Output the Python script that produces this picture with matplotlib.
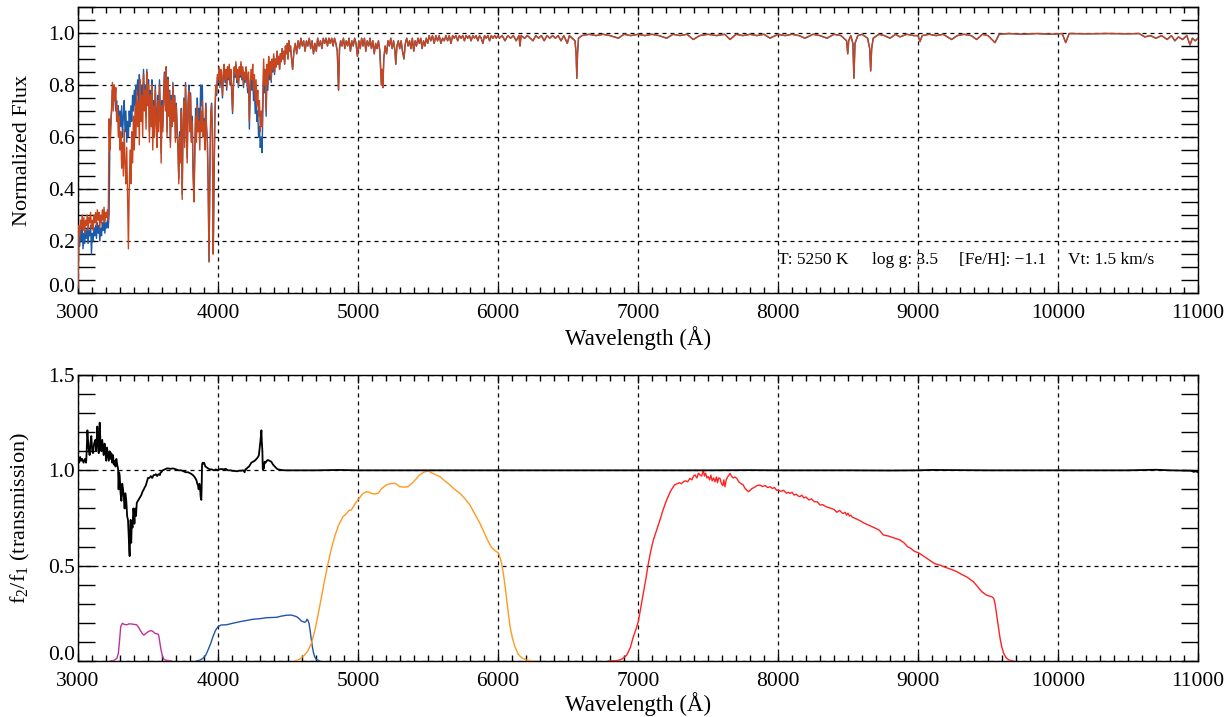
import numpy as np
import matplotlib
matplotlib.use("Agg")
import matplotlib.pyplot as plt
from matplotlib.ticker import MultipleLocator, FormatStrFormatter
from matplotlib.transforms import ScaledTranslation

# ---------------- data ----------------
# spectra on a 6 A grid from 3000 A (blue region), f2 = red/orange line, f1 = blue line
f2_blue_region = [
    0.02, 0.26, 0.22, 0.28, 0.25, 0.30, 0.24, 0.29, 0.23, 0.28,
    0.26, 0.30, 0.24, 0.29, 0.27, 0.31, 0.25, 0.28, 0.24, 0.30,
    0.27, 0.31, 0.26, 0.32, 0.28, 0.31, 0.25, 0.30, 0.27, 0.32,
    0.28, 0.33, 0.27, 0.31, 0.29, 0.32, 0.28, 0.67, 0.55, 0.62,
    0.72, 0.81, 0.70, 0.80, 0.74, 0.79, 0.66, 0.72, 0.60, 0.68,
    0.55, 0.62, 0.48, 0.58, 0.45, 0.63, 0.50, 0.42, 0.56, 0.38,
    0.17, 0.40, 0.55, 0.42, 0.62, 0.50, 0.68, 0.55, 0.72, 0.60,
    0.78, 0.64, 0.74, 0.57, 0.82, 0.66, 0.76, 0.60, 0.84, 0.70,
    0.78, 0.63, 0.85, 0.72, 0.80, 0.58, 0.76, 0.64, 0.80, 0.55,
    0.72, 0.60, 0.78, 0.66, 0.56, 0.74, 0.62, 0.80, 0.68, 0.50,
    0.72, 0.62, 0.76, 0.84, 0.70, 0.87, 0.60, 0.82, 0.68, 0.77,
    0.56, 0.74, 0.64, 0.80, 0.66, 0.75, 0.58, 0.72, 0.63, 0.55,
    0.42, 0.60, 0.50, 0.70, 0.36, 0.62, 0.74, 0.56, 0.80, 0.65,
    0.50, 0.72, 0.78, 0.62, 0.76, 0.58, 0.66, 0.45, 0.35, 0.52,
    0.68, 0.58, 0.72, 0.62, 0.66, 0.55, 0.70, 0.62, 0.74, 0.60,
    0.66, 0.55, 0.72, 0.63, 0.58, 0.40, 0.12, 0.45, 0.68, 0.72,
    0.62, 0.15, 0.45, 0.70, 0.80, 0.77, 0.84, 0.82, 0.87, 0.80,
    0.86, 0.83, 0.76, 0.85, 0.88, 0.82, 0.86, 0.79, 0.87, 0.83,
    0.88, 0.81, 0.86, 0.78, 0.70, 0.80, 0.87, 0.84, 0.89, 0.82,
    0.86, 0.80, 0.87, 0.84, 0.89, 0.83, 0.87, 0.80, 0.85, 0.82,
    0.87, 0.84, 0.79, 0.85, 0.66, 0.80, 0.86, 0.82, 0.88, 0.78,
    0.84, 0.74, 0.82, 0.72, 0.78, 0.68, 0.74, 0.62, 0.70, 0.64,
    0.76, 0.90, 0.80, 0.86, 0.70, 0.88, 0.80, 0.91, 0.84, 0.89,
    0.82, 0.90, 0.86, 0.92, 0.85, 0.90, 0.87, 0.93, 0.88, 0.91,
    0.86, 0.92, 0.89, 0.94, 0.90, 0.93, 0.88, 0.95, 0.92, 0.96,
    0.90, 0.97, 0.93, 0.95,
]
f1_blue_region = [
    0.02, 0.22, 0.18, 0.24, 0.20, 0.25, 0.17, 0.23, 0.19, 0.24,
    0.21, 0.25, 0.19, 0.24, 0.22, 0.26, 0.15, 0.23, 0.20, 0.25,
    0.22, 0.26, 0.21, 0.27, 0.23, 0.26, 0.20, 0.25, 0.22, 0.27,
    0.24, 0.28, 0.23, 0.27, 0.25, 0.28, 0.25, 0.30, 0.60, 0.66,
    0.70, 0.78, 0.73, 0.80, 0.76, 0.70, 0.74, 0.66, 0.72, 0.62,
    0.70, 0.64, 0.72, 0.60, 0.68, 0.74, 0.62, 0.70, 0.58, 0.66,
    0.60, 0.70, 0.64, 0.72, 0.66, 0.76, 0.70, 0.78, 0.72, 0.80,
    0.76, 0.82, 0.74, 0.84, 0.78, 0.70, 0.80, 0.74, 0.86, 0.76,
    0.80, 0.68, 0.86, 0.74, 0.82, 0.62, 0.78, 0.68, 0.82, 0.60,
    0.74, 0.64, 0.80, 0.70, 0.60, 0.76, 0.66, 0.82, 0.70, 0.54,
    0.74, 0.64, 0.78, 0.85, 0.72, 0.87, 0.62, 0.83, 0.70, 0.78,
    0.58, 0.76, 0.66, 0.81, 0.68, 0.76, 0.60, 0.73, 0.64, 0.57,
    0.44, 0.62, 0.52, 0.71, 0.38, 0.63, 0.75, 0.58, 0.81, 0.66,
    0.52, 0.73, 0.80, 0.63, 0.77, 0.60, 0.68, 0.48, 0.37, 0.55,
    0.71, 0.61, 0.75, 0.66, 0.71, 0.62, 0.80, 0.72, 0.80, 0.62,
    0.67, 0.56, 0.73, 0.64, 0.59, 0.41, 0.12, 0.46, 0.69, 0.73,
    0.63, 0.15, 0.44, 0.68, 0.78, 0.76, 0.83, 0.81, 0.86, 0.79,
    0.85, 0.82, 0.75, 0.84, 0.87, 0.81, 0.85, 0.78, 0.86, 0.82,
    0.87, 0.80, 0.85, 0.77, 0.69, 0.79, 0.86, 0.83, 0.88, 0.81,
    0.85, 0.79, 0.86, 0.83, 0.88, 0.82, 0.86, 0.79, 0.84, 0.81,
    0.85, 0.82, 0.77, 0.82, 0.63, 0.77, 0.82, 0.78, 0.84, 0.74,
    0.79, 0.69, 0.76, 0.66, 0.70, 0.60, 0.64, 0.56, 0.60, 0.54,
    0.68, 0.86, 0.77, 0.83, 0.68, 0.86, 0.78, 0.89, 0.82, 0.87,
    0.81, 0.89, 0.85, 0.91, 0.84, 0.90, 0.87, 0.93, 0.88, 0.91,
    0.86, 0.92, 0.89, 0.94, 0.90, 0.93, 0.88, 0.95, 0.92, 0.96,
    0.90, 0.97, 0.93, 0.95,
]
grid_start, grid_step = 3000, 6

# beyond ~4520 A both spectra coincide: (wavelength, flux)
spec_tail = [
    (4524, 0.91), (4533, 0.86), (4542, 0.93), (4552, 0.96), (4562, 0.92), (4572, 0.97), (4582, 0.94),
    (4592, 0.98), (4602, 0.95), (4612, 0.97), (4622, 0.93), (4632, 0.97), (4642, 0.95), (4652, 0.98),
    (4662, 0.94), (4672, 0.97), (4682, 0.92), (4692, 0.96), (4702, 0.93), (4712, 0.98), (4722, 0.95),
    (4732, 0.97), (4742, 0.94), (4752, 0.98), (4762, 0.96), (4772, 0.98), (4782, 0.95), (4792, 0.98),
    (4802, 0.96), (4812, 0.98), (4822, 0.95), (4832, 0.98), (4842, 0.96), (4852, 0.93), (4861, 0.78),
    (4868, 0.94), (4876, 0.97), (4886, 0.95), (4896, 0.98), (4906, 0.94), (4916, 0.97), (4926, 0.95),
    (4936, 0.98), (4946, 0.93), (4956, 0.97), (4966, 0.95), (4976, 0.98), (4986, 0.96), (4996, 0.91),
    (5006, 0.97), (5016, 0.94), (5026, 0.98), (5036, 0.95), (5046, 0.98), (5056, 0.93), (5066, 0.97),
    (5076, 0.95), (5086, 0.98), (5096, 0.94), (5106, 0.97), (5116, 0.92), (5126, 0.96), (5136, 0.94),
    (5146, 0.97), (5156, 0.93), (5167, 0.80), (5172, 0.86), (5178, 0.79), (5184, 0.90), (5194, 0.95),
    (5204, 0.92), (5214, 0.97), (5224, 0.95), (5234, 0.98), (5244, 0.94), (5254, 0.97), (5264, 0.93),
    (5270, 0.88), (5278, 0.95), (5288, 0.97), (5298, 0.94), (5308, 0.97), (5318, 0.93), (5328, 0.90),
    (5338, 0.96), (5348, 0.98), (5358, 0.95), (5368, 0.97), (5378, 0.94), (5388, 0.98), (5398, 0.93),
    (5408, 0.97), (5418, 0.95), (5428, 0.98), (5438, 0.96), (5448, 0.98), (5458, 0.94), (5468, 0.97),
    (5478, 0.95), (5488, 0.98), (5498, 0.96), (5508, 0.99), (5520, 0.97), (5532, 0.99), (5544, 0.96),
    (5556, 0.99), (5568, 0.97), (5580, 0.99), (5592, 0.96), (5604, 0.98), (5616, 0.97), (5628, 0.99),
    (5640, 0.97), (5652, 0.99), (5664, 0.96), (5676, 0.99), (5688, 0.98), (5700, 0.99), (5712, 0.97),
    (5724, 0.99), (5736, 0.98), (5748, 0.99), (5760, 0.97), (5772, 0.99), (5784, 0.98), (5796, 0.99),
    (5808, 0.97), (5820, 0.99), (5832, 0.98), (5844, 0.99), (5856, 0.97), (5868, 0.99), (5880, 0.98),
    (5892, 0.96), (5904, 0.99), (5916, 0.98), (5928, 0.99), (5940, 0.97), (5952, 0.99), (5964, 0.98),
    (5976, 0.99), (5988, 0.98), (6000, 0.99), (6010, 0.98), (6030, 0.99), (6050, 0.97), (6070, 0.99),
    (6090, 0.98), (6110, 0.99), (6130, 0.97), (6150, 0.99), (6157, 0.95), (6165, 0.99), (6190, 0.98),
    (6210, 0.99), (6230, 0.98), (6250, 0.97), (6270, 0.99), (6290, 0.98), (6310, 0.99), (6330, 0.97),
    (6350, 0.99), (6370, 0.98), (6390, 0.99), (6410, 0.98), (6430, 0.99), (6450, 0.97), (6470, 0.99),
    (6495, 0.96), (6510, 0.99), (6530, 0.98), (6550, 0.97), (6558, 0.92), (6563, 0.826), (6568, 0.92),
    (6575, 0.98), (6600, 0.99), (6650, 0.995), (6700, 0.99), (6750, 0.995), (6800, 0.99), (6860, 0.98),
    (6900, 0.995), (6950, 0.99), (7000, 0.995), (7050, 0.99), (7100, 0.995), (7150, 0.99), (7205, 0.98),
    (7250, 0.995), (7300, 0.99), (7350, 0.995), (7395, 0.975), (7440, 0.99), (7500, 0.995), (7560, 0.99),
    (7620, 0.995), (7657, 0.975), (7700, 0.995), (7750, 0.99), (7800, 0.995), (7850, 0.99), (7900, 0.995),
    (7943, 0.98), (8000, 0.995), (8050, 0.99), (8100, 0.995), (8150, 0.99), (8193, 0.98), (8250, 0.995),
    (8300, 0.99), (8350, 0.98), (8400, 0.995), (8450, 0.99), (8490, 0.97), (8498, 0.92), (8505, 0.97),
    (8520, 0.99), (8535, 0.96), (8542, 0.826), (8550, 0.96), (8570, 0.99), (8600, 0.995), (8640, 0.98),
    (8655, 0.94), (8662, 0.854), (8669, 0.94), (8680, 0.98), (8720, 0.995), (8760, 0.99), (8800, 0.98),
    (8840, 0.995), (8871, 0.985), (8920, 0.995), (8970, 0.99), (9000, 0.99), (9014, 0.967), (9030, 0.99),
    (9080, 0.995), (9130, 0.99), (9180, 0.995), (9240, 0.975), (9280, 0.99), (9330, 0.995), (9380, 0.99),
    (9419, 0.975), (9460, 0.995), (9500, 0.99), (9550, 0.963), (9580, 0.995), (9650, 0.998), (9750, 0.995),
    (9850, 0.998), (9950, 0.995), (10030, 0.998), (10055, 0.963), (10080, 0.998), (10200, 0.997),
    (10350, 0.998), (10500, 0.997), (10580, 0.998), (10620, 0.985), (10660, 0.99), (10700, 0.98),
    (10740, 0.99), (10780, 0.975), (10810, 0.99), (10835, 0.97), (10860, 0.985), (10890, 0.975),
    (10920, 0.99), (10943, 0.954), (10960, 0.98), (10980, 0.97), (11000, 0.98),
]

# flux ratio f2/f1
ratio_pts = [
    (3000, 1.05), (3008, 1.04), (3015, 1.07), (3022, 1.05), (3030, 1.06), (3040, 1.04), (3050, 1.06),
    (3058, 1.04), (3062, 1.10), (3067, 1.21), (3075, 1.12), (3083, 1.08), (3090, 1.15), (3095, 1.18),
    (3102, 1.10), (3107, 1.09), (3115, 1.14), (3124, 1.16), (3130, 1.10), (3138, 1.23), (3143, 1.14),
    (3148, 1.09), (3155, 1.25), (3160, 1.15), (3167, 1.10), (3173, 1.16), (3178, 1.12), (3183, 1.08),
    (3190, 1.14), (3196, 1.09), (3202, 1.05), (3207, 1.12), (3214, 1.08), (3220, 1.05), (3226, 1.10),
    (3232, 1.06), (3238, 1.09), (3245, 1.04), (3250, 1.08), (3256, 1.03), (3262, 1.05), (3268, 1.02),
    (3274, 1.06), (3280, 1.03), (3286, 1.01), (3290, 0.90), (3294, 0.99), (3298, 0.97), (3304, 0.88),
    (3310, 0.84), (3316, 0.93), (3322, 0.90), (3328, 0.85), (3333, 0.80), (3338, 0.88), (3345, 0.84),
    (3351, 0.76), (3357, 0.74), (3362, 0.66), (3366, 0.58), (3369, 0.55), (3373, 0.68), (3376, 0.74),
    (3380, 0.62), (3384, 0.72), (3390, 0.70), (3395, 0.80), (3398, 0.79), (3403, 0.72), (3408, 0.80),
    (3414, 0.76), (3420, 0.83), (3428, 0.84), (3436, 0.85), (3444, 0.86), (3452, 0.87), (3462, 0.89),
    (3470, 0.90), (3476, 0.91), (3484, 0.92), (3492, 0.94), (3500, 0.96), (3510, 0.96), (3520, 0.97),
    (3530, 0.96), (3540, 0.975), (3548, 0.975), (3556, 0.98), (3565, 0.97), (3575, 0.98), (3585, 0.975),
    (3590, 0.99), (3595, 0.99), (3605, 1.0), (3620, 1.005), (3635, 1.01), (3643, 1.01), (3660, 1.008),
    (3680, 1.01), (3700, 1.005), (3720, 1.0), (3738, 1.0), (3755, 0.995), (3770, 0.99), (3786, 0.99),
    (3800, 0.985), (3812, 0.98), (3821, 0.975), (3833, 0.965), (3845, 0.95), (3852, 0.93), (3857, 0.92),
    (3862, 0.90), (3867, 0.93), (3872, 0.91), (3876, 0.86), (3881, 0.845), (3884, 0.94), (3886, 1.03),
    (3890, 1.04), (3895, 1.035), (3900, 1.04), (3910, 1.02), (3920, 1.015), (3930, 1.01), (3940, 1.005),
    (3955, 1.005), (3970, 1.0), (3985, 1.005), (4000, 1.0), (4010, 1.005), (4024, 1.007), (4040, 1.005),
    (4055, 1.008), (4071, 1.0), (4090, 1.0), (4105, 0.997), (4119, 0.997), (4135, 0.995), (4150, 0.998),
    (4167, 0.998), (4180, 1.0), (4190, 0.99), (4195, 1.005), (4202, 1.007), (4212, 1.015), (4222, 1.02),
    (4230, 1.03), (4238, 1.04), (4250, 1.045), (4262, 1.05), (4275, 1.06), (4286, 1.07), (4292, 1.08),
    (4298, 1.12), (4304, 1.16), (4310, 1.21), (4313, 1.15), (4317, 1.10), (4320, 1.005), (4323, 1.03),
    (4327, 1.01), (4333, 1.045), (4340, 1.04), (4348, 1.05), (4357, 1.054), (4368, 1.05), (4381, 1.045),
    (4393, 1.03), (4405, 1.02), (4418, 1.01), (4429, 1.005), (4450, 1.002), (4476, 1.0), (4550, 1.0),
    (4700, 1.0), (4860, 1.002), (5000, 1.0), (5500, 1.0), (6000, 1.0), (6500, 1.0), (7000, 1.0),
    (7500, 1.0), (7800, 1.001), (8000, 1.0), (8500, 1.0), (8800, 0.999), (9000, 1.0), (9100, 1.002),
    (9500, 1.0), (10000, 1.0), (10500, 1.0), (10700, 1.003), (10800, 1.0), (10950, 0.998),
    (10970, 0.992), (10985, 0.995), (11000, 0.99),
]

# filter transmission curves
filt_u = [
    (3229, 0), (3260, 0.004), (3278, 0.015), (3288, 0.04), (3296, 0.1), (3305, 0.18), (3317, 0.198),
    (3330, 0.192), (3348, 0.19), (3365, 0.195), (3383, 0.194), (3400, 0.192), (3419, 0.19),
    (3432, 0.178), (3443, 0.163), (3458, 0.145), (3471, 0.136), (3486, 0.145), (3502, 0.154),
    (3515, 0.158), (3526, 0.159), (3540, 0.152), (3550, 0.145), (3565, 0.142), (3574, 0.14),
    (3580, 0.12), (3586, 0.09), (3594, 0.055), (3602, 0.03), (3610, 0.012), (3621, 0.005), (3669, 0),
]
filt_b = [
    (3845, 0), (3870, 0.004), (3893, 0.014), (3912, 0.03), (3929, 0.058), (3947, 0.09), (3964, 0.128),
    (3982, 0.16), (4000, 0.18), (4024, 0.189), (4060, 0.19), (4100, 0.197), (4155, 0.206),
    (4200, 0.212), (4250, 0.219), (4300, 0.222), (4345, 0.227), (4380, 0.228), (4417, 0.229),
    (4450, 0.235), (4488, 0.24), (4524, 0.241), (4560, 0.233), (4580, 0.222), (4595, 0.21),
    (4619, 0.203), (4628, 0.207), (4636, 0.219), (4643, 0.212), (4650, 0.198), (4658, 0.16),
    (4667, 0.11), (4675, 0.07), (4683, 0.04), (4692, 0.02), (4702, 0.009), (4726, 0),
]
filt_v = [
    (4548, 0), (4580, 0.008), (4607, 0.023), (4640, 0.05), (4667, 0.093), (4695, 0.17), (4726, 0.285),
    (4755, 0.4), (4786, 0.512), (4810, 0.59), (4833, 0.652), (4860, 0.71), (4893, 0.757), (4920, 0.775),
    (4935, 0.79), (4952, 0.792), (4975, 0.82), (5000, 0.845), (5030, 0.875), (5060, 0.888),
    (5080, 0.885), (5095, 0.879), (5120, 0.876), (5143, 0.879), (5170, 0.905), (5202, 0.923),
    (5230, 0.93), (5262, 0.932), (5280, 0.925), (5298, 0.914), (5330, 0.912), (5357, 0.914),
    (5390, 0.935), (5419, 0.958), (5440, 0.976), (5470, 0.99), (5502, 0.997), (5530, 0.985),
    (5560, 0.975), (5586, 0.967), (5620, 0.945), (5657, 0.923), (5690, 0.9), (5729, 0.879),
    (5765, 0.85), (5800, 0.818), (5835, 0.77), (5871, 0.722), (5900, 0.675), (5931, 0.626),
    (5950, 0.6), (5967, 0.586), (5985, 0.575), (6002, 0.568), (6015, 0.54), (6026, 0.512),
    (6040, 0.45), (6057, 0.355), (6072, 0.26), (6086, 0.18), (6103, 0.12), (6121, 0.075),
    (6145, 0.035), (6169, 0.017), (6200, 0.006), (6252, 0),
]
filt_i = [
    (6788, 0), (6850, 0.002), (6883, 0.009), (6919, 0.03), (6945, 0.07), (6967, 0.128), (6985, 0.165),
    (7002, 0.206), (7020, 0.28), (7038, 0.355), (7056, 0.43), (7074, 0.512), (7092, 0.58), (7110, 0.635),
    (7135, 0.69), (7157, 0.74), (7180, 0.795), (7205, 0.845), (7232, 0.89), (7260, 0.923), (7280, 0.93),
    (7295, 0.935), (7310, 0.93), (7324, 0.94), (7340, 0.945), (7355, 0.94), (7371, 0.958), (7385, 0.95),
    (7397, 0.97), (7407, 0.976), (7420, 0.96), (7432, 0.985), (7443, 0.976), (7455, 0.97), (7462, 0.99),
    (7467, 1.0), (7474, 0.97), (7483, 0.985), (7492, 0.96), (7502, 0.967), (7512, 0.95), (7520, 0.975),
    (7530, 0.945), (7540, 0.96), (7550, 0.94), (7560, 0.965), (7568, 0.935), (7576, 0.96), (7586, 0.958),
    (7596, 0.93), (7606, 0.92), (7613, 0.95), (7621, 0.914), (7630, 0.95), (7640, 0.965), (7650, 0.975),
    (7657, 0.984), (7667, 0.97), (7680, 0.96), (7692, 0.965), (7705, 0.958), (7720, 0.94), (7735, 0.93),
    (7750, 0.925), (7765, 0.905), (7778, 0.895), (7788, 0.888), (7800, 0.895), (7815, 0.905), (7830, 0.91),
    (7850, 0.92), (7871, 0.923), (7890, 0.915), (7910, 0.92), (7925, 0.91), (7943, 0.914), (7960, 0.905),
    (7975, 0.91), (7990, 0.895), (8002, 0.897), (8020, 0.89), (8040, 0.895), (8060, 0.88), (8075, 0.885),
    (8086, 0.879), (8100, 0.885), (8115, 0.87), (8130, 0.875), (8145, 0.865), (8157, 0.862), (8170, 0.87),
    (8185, 0.855), (8200, 0.86), (8220, 0.845), (8240, 0.85), (8260, 0.835), (8280, 0.835), (8300, 0.818),
    (8320, 0.82), (8340, 0.81), (8360, 0.805), (8380, 0.8), (8400, 0.795), (8420, 0.78), (8440, 0.79),
    (8460, 0.775), (8467, 0.774), (8480, 0.78), (8490, 0.765), (8500, 0.775), (8510, 0.76), (8520, 0.765),
    (8530, 0.755), (8545, 0.75), (8560, 0.745), (8586, 0.736), (8610, 0.725), (8640, 0.715), (8670, 0.705),
    (8700, 0.695), (8725, 0.685), (8752, 0.661), (8790, 0.655), (8830, 0.645), (8871, 0.635), (8900, 0.62),
    (8925, 0.6), (8950, 0.59), (8975, 0.575), (9002, 0.568), (9030, 0.555), (9060, 0.54), (9090, 0.525),
    (9120, 0.51), (9157, 0.503), (9200, 0.49), (9240, 0.48), (9276, 0.469), (9310, 0.455), (9350, 0.44),
    (9395, 0.416), (9420, 0.395), (9455, 0.364), (9490, 0.345), (9526, 0.337), (9540, 0.33), (9550, 0.302),
    (9562, 0.24), (9574, 0.18), (9586, 0.12), (9598, 0.075), (9612, 0.04), (9629, 0.017), (9650, 0.005),
    (9681, 0),
]

x_ticks = [3000, 4000, 5000, 6000, 7000, 8000, 9000, 10000, 11000]
top_y_ticks = [0.0, 0.2, 0.4, 0.6, 0.8, 1.0]
bot_y_ticks = [0.0, 0.5, 1.0, 1.5]
params = ["T: 5250 K", "log g: 3.5", "[Fe/H]: \u22121.1", "Vt: 1.5 km/s"]

# ---------------- assemble ----------------
wave_grid = grid_start + grid_step * np.arange(len(f2_blue_region))
tail_w = np.array([p[0] for p in spec_tail], float)
tail_f = np.array([p[1] for p in spec_tail], float)
wave = np.concatenate([wave_grid, tail_w])
flux2 = np.concatenate([f2_blue_region, tail_f])
flux1 = np.concatenate([f1_blue_region, tail_f])

def split(pts):
    return [p[0] for p in pts], [p[1] for p in pts]

# ---------------- style ----------------
plt.rcParams["font.family"] = ["Liberation Serif", "DejaVu Serif"]
plt.rcParams["mathtext.fontset"] = "custom"
plt.rcParams["mathtext.rm"] = "Liberation Serif"
plt.rcParams["mathtext.it"] = "Liberation Serif:italic"

fig = plt.figure(figsize=(12.32, 7.17), dpi=100)
W, H = 1232.0, 717.0
ax1 = fig.add_axes([78 / W, 1 - 293 / H, 1120 / W, 286 / H])
ax2 = fig.add_axes([78 / W, 1 - 661 / H, 1120 / W, 286 / H])

c_blue = "#1a5aa8"
c_red = "#c8461e"

ax1.plot(wave, flux1, color=c_blue, lw=1.0, zorder=3)
ax1.plot(wave, flux2, color=c_red, lw=1.0, zorder=4)

rx, ry = split(ratio_pts)
ax2.plot(rx, ry, color="black", lw=1.3, zorder=4)
for pts, col in [(filt_u, "#bb3399"), (filt_b, "#2255aa"), (filt_v, "#ff9922"), (filt_i, "#ff2222")]:
    fx, fy = split(pts)
    ax2.plot(fx, fy, color=col, lw=1.0, zorder=3)

dash = (0, (3.2, 3.2))
for ax, yt, ymin, ymax, yminor in [(ax1, top_y_ticks, 0.0, 1.1, 0.05), (ax2, bot_y_ticks, 0.0, 1.5, 0.1)]:
    ax.set_xlim(3000, 11000)
    ax.set_ylim(ymin, ymax)
    ax.set_xticks(x_ticks)
    ax.set_yticks(yt)
    ax.xaxis.set_minor_locator(MultipleLocator(100))
    ax.yaxis.set_minor_locator(MultipleLocator(yminor))
    ax.yaxis.set_major_formatter(FormatStrFormatter("%.1f"))
    ax.tick_params(axis="both", which="both", direction="in", top=True, right=True,
                   labelsize=15.5, width=1.0, color="black")
    ax.tick_params(axis="x", which="major", length=6, pad=8)
    ax.tick_params(axis="x", which="minor", length=4)
    ax.tick_params(axis="y", which="both", length=12, pad=2)
    ax.grid(True, which="major", color="black", linestyle=dash, lw=0.9)
    for s in ax.spines.values():
        s.set_linewidth(1.0)
    # the lowest y label sits a bit above the axis bottom, as in the original
    lab0 = ax.get_yticklabels()[0]
    lab0.set_transform(lab0.get_transform() + ScaledTranslation(0, 6 / 72, fig.dpi_scale_trans))

ax1.set_xlabel("Wavelength (\u00c5)", fontsize=16.5, labelpad=2)
ax2.set_xlabel("Wavelength (\u00c5)", fontsize=16.5, labelpad=1)
ax1.set_ylabel("Normalized Flux", fontsize=16, labelpad=12)
ax2.set_ylabel(r"f$_2$/f$_1$ (transmission)", fontsize=16, labelpad=12)

for xpos, txt in zip([8000, 8671, 9293, 10071], params):
    ax1.text(xpos, 0.125, txt, fontsize=12.5, ha="left", va="center", zorder=6)

fig.savefig("out.png", dpi=100)
